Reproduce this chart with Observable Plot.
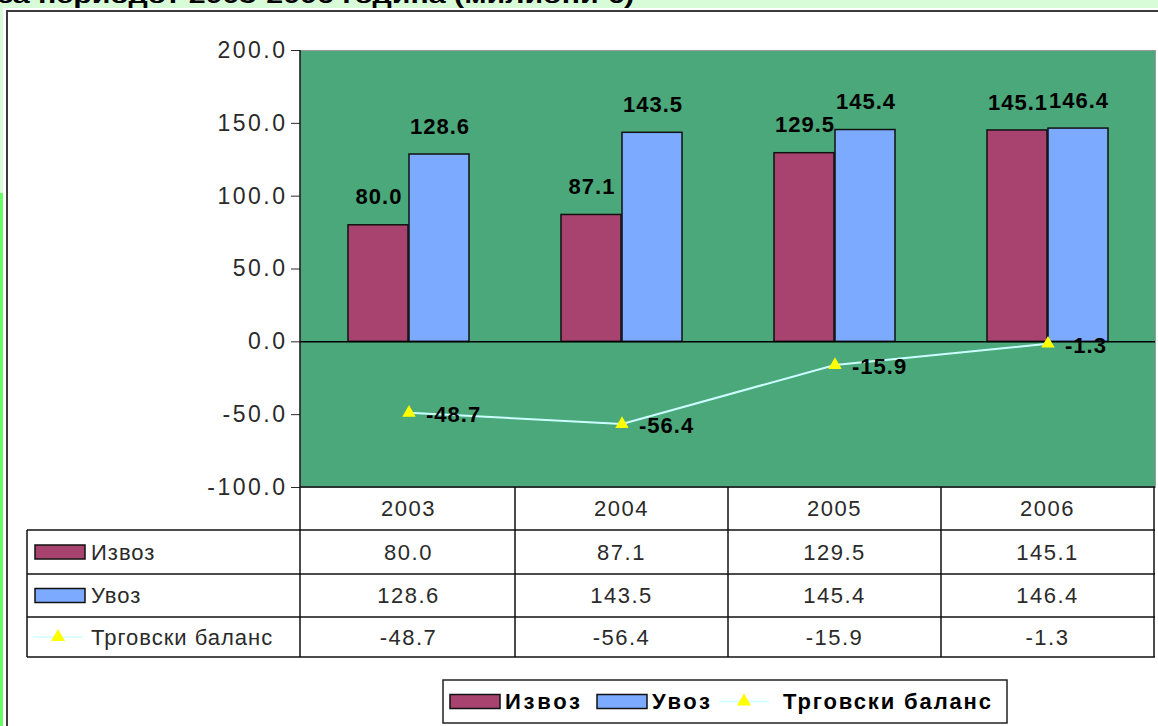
<!DOCTYPE html>
<html><head><meta charset="utf-8">
<script src="https://cdn.jsdelivr.net/npm/d3@7"></script>
<script src="https://cdn.jsdelivr.net/npm/@observablehq/plot@0.6"></script>
<style>
html,body{margin:0;padding:0;}
body{width:1158px;height:726px;overflow:hidden;background:#fff;position:relative;font-family:"Liberation Sans",Arial,sans-serif;}
.abs{position:absolute;}
#chart g[aria-label="text"] text{letter-spacing:1px;}
#chart g[aria-label="y-axis tick label"] text{letter-spacing:2.5px;}
</style></head><body>
<div class="abs" style="left:0;top:0;width:1158px;height:8px;background:#d8fcd8"></div>
<div class="abs" style="left:0;top:0;width:3px;height:193px;background:#d8fcd8"></div>
<div class="abs" style="left:0;top:193px;width:3px;height:533px;background:#66ff66"></div>
<div class="abs" style="left:6px;top:10px;width:1200px;height:800px;border-left:2px solid #3c3c3c;border-top:2px solid #3c3c3c"></div>
<svg class="abs" style="left:0;top:0" width="1158" height="10">
  <text id="title" x="-2" y="3" font-family="Liberation Sans, Arial, sans-serif" font-weight="bold" font-size="22" textLength="636" lengthAdjust="spacingAndGlyphs">за периодот 2003-2006 година (милиони €)</text>
</svg>
<div id="chart" class="abs" style="left:0;top:0"></div>
<svg id="overlay" class="abs" style="left:0;top:0" width="1158" height="726"></svg>
<script>
const years = ["2003", "2004", "2005", "2006"];
const izvoz = [80.0, 87.1, 129.5, 145.1];
const uvoz = [128.6, 143.5, 145.4, 146.4];
const balans = [-48.7, -56.4, -15.9, -1.3];
const seriesNames = ["Извоз", "Увоз", "Трговски баланс"];
const yTicks = [-100, -50, 0, 50, 100, 150, 200];

const colIzvoz = "#A8436F", colUvoz = "#7BAAFF", colBg = "#4BA87A", colLine = "#CCFFFF", colMarker = "#FFFF00";
const fmt = d => d.toFixed(1);
const rows = years.map((year, i) => ({year, izvoz: izvoz[i], uvoz: uvoz[i], balans: balans[i]}));

const chart = Plot.plot({
  width: 1158, height: 490,
  marginLeft: 300, marginRight: 3, marginTop: 50, marginBottom: 3,
  style: {background: "transparent", fontFamily: "Liberation Sans, Arial, sans-serif", overflow: "visible"},
  x: {type: "band", domain: years, padding: 0, axis: null},
  y: {domain: [-100, 200]},
  marks: [
    Plot.frame({fill: colBg, stroke: "#9a9a9a"}),
    Plot.axisY({ticks: yTicks, tickFormat: fmt, tickSize: 9, tickPadding: 4, fontSize: 23, color: "#2a2a2a"}),
    Plot.barY(rows, {x: "year", y: "izvoz", fill: colIzvoz, stroke: "#111", strokeWidth: 1.5, insetLeft: 46, insetRight: 107}),
    Plot.barY(rows, {x: "year", y: "uvoz", fill: colUvoz, stroke: "#111", strokeWidth: 1.5, insetLeft: 107, insetRight: 46}),
    Plot.ruleY([0], {stroke: "#000", strokeWidth: 1.5}),
    Plot.line(rows, {x: "year", y: "balans", stroke: colLine, strokeWidth: 2}),
    Plot.dot(rows, {x: "year", y: "balans", symbol: "triangle", r: 5, fill: colMarker, stroke: "none"}),
    Plot.text(rows, {x: "year", y: "izvoz", text: d => fmt(d.izvoz), dx: -30, dy: -28, fontSize: 22, fontWeight: "bold", fill: "#000"}),
    Plot.text(rows, {x: "year", y: "uvoz", text: d => fmt(d.uvoz), dx: 31, dy: -28, fontSize: 22, fontWeight: "bold", fill: "#000"}),
    Plot.text(rows, {x: "year", y: "balans", text: d => fmt(d.balans), dx: 17, dy: 2, textAnchor: "start", fontSize: 22, fontWeight: "bold", fill: "#000"})
  ]
});
document.getElementById("chart").appendChild(chart);

// data table + legend, aligned to the chart's own scales
const xs = chart.scale("x"), ys = chart.scale("y");
const bw = xs.bandwidth;
const plotLeft = xs.range[0], plotRight = xs.range[1];
const plotTop = ys.apply(200), plotBottom = ys.apply(-100);
const rowY = [plotBottom, plotBottom + 43, plotBottom + 87, plotBottom + 130, plotBottom + 170];
const tableLeft = 27;
const svg = d3.select("#overlay");
const stroke = "#111";
const textCol = "#2a2a2a";

svg.append("line").attr("x1", plotLeft).attr("x2", plotLeft).attr("y1", plotTop).attr("y2", rowY[4]).attr("stroke", stroke).attr("stroke-width", 1.5);
svg.append("line").attr("x1", plotLeft).attr("x2", plotRight).attr("y1", rowY[0]).attr("y2", rowY[0]).attr("stroke", stroke).attr("stroke-width", 1.5);
for (let r = 1; r <= 4; r++) {
  svg.append("line").attr("x1", tableLeft).attr("x2", plotRight).attr("y1", rowY[r]).attr("y2", rowY[r]).attr("stroke", stroke).attr("stroke-width", 1.5);
}
svg.append("line").attr("x1", tableLeft).attr("x2", tableLeft).attr("y1", rowY[1]).attr("y2", rowY[4]).attr("stroke", stroke).attr("stroke-width", 1.5);
years.forEach(y => {
  const x1 = xs.apply(y) + bw;
  svg.append("line").attr("x1", x1).attr("x2", x1).attr("y1", rowY[0]).attr("y2", rowY[4]).attr("stroke", stroke).attr("stroke-width", 1.5);
});
const cellText = (x, r, t) => svg.append("text").attr("x", x).attr("y", (rowY[r] + rowY[r + 1]) / 2)
  .attr("dy", "0.36em").attr("text-anchor", "middle").attr("font-size", 22).attr("fill", textCol)
  .attr("letter-spacing", "1.5px").attr("font-family", "Liberation Sans, Arial, sans-serif").text(t);
const seriesVals = [izvoz, uvoz, balans];
years.forEach((y, i) => {
  const cx = xs.apply(y) + bw / 2;
  cellText(cx, 0, y);
  seriesVals.forEach((vals, s) => cellText(cx, s + 1, fmt(vals[i])));
});
const swatchRect = (g, x, y, fill) => g.append("rect").attr("x", x).attr("y", y).attr("width", 50).attr("height", 14).attr("fill", fill).attr("stroke", "#111").attr("stroke-width", 1.5);
const lineSwatch = (g, x, y) => {
  g.append("line").attr("x1", x).attr("x2", x + 50).attr("y1", y).attr("y2", y).attr("stroke", colLine).attr("stroke-width", 1.5);
  g.append("path").attr("d", d3.symbol(d3.symbolTriangle, 85)()).attr("transform", `translate(${x + 25},${y})`).attr("fill", colMarker);
};
[colIzvoz, colUvoz].forEach((c, s) => {
  const cy = (rowY[s + 1] + rowY[s + 2]) / 2;
  swatchRect(svg, 35, cy - 7, c);
});
lineSwatch(svg, 33, (rowY[3] + rowY[4]) / 2);
seriesNames.forEach((n, s) => {
  svg.append("text").attr("x", 91).attr("y", (rowY[s + 1] + rowY[s + 2]) / 2).attr("dy", "0.36em")
    .attr("font-size", 22).attr("fill", textCol).attr("letter-spacing", "1px")
    .attr("font-family", "Liberation Sans, Arial, sans-serif").text(n);
});

const lg = svg.append("g");
lg.append("rect").attr("x", 443).attr("y", 680).attr("width", 564).attr("height", 43).attr("fill", "#fff").attr("stroke", "#222").attr("stroke-width", 1.5);
const ly = 701.5;
swatchRect(lg, 450, ly - 7, colIzvoz);
swatchRect(lg, 597, ly - 7, colUvoz);
lineSwatch(lg, 719, ly);
const legText = (x, w, t) => lg.append("text").attr("x", x).attr("y", ly).attr("dy", "0.36em")
  .attr("font-size", 22).attr("font-weight", "bold").attr("fill", "#000")
  .attr("font-family", "Liberation Sans, Arial, sans-serif")
  .attr("textLength", w).attr("lengthAdjust", "spacing").text(t);
legText(505, 75, seriesNames[0]);
legText(652, 58, seriesNames[1]);
legText(783, 208, seriesNames[2]);
</script>
</body></html>
